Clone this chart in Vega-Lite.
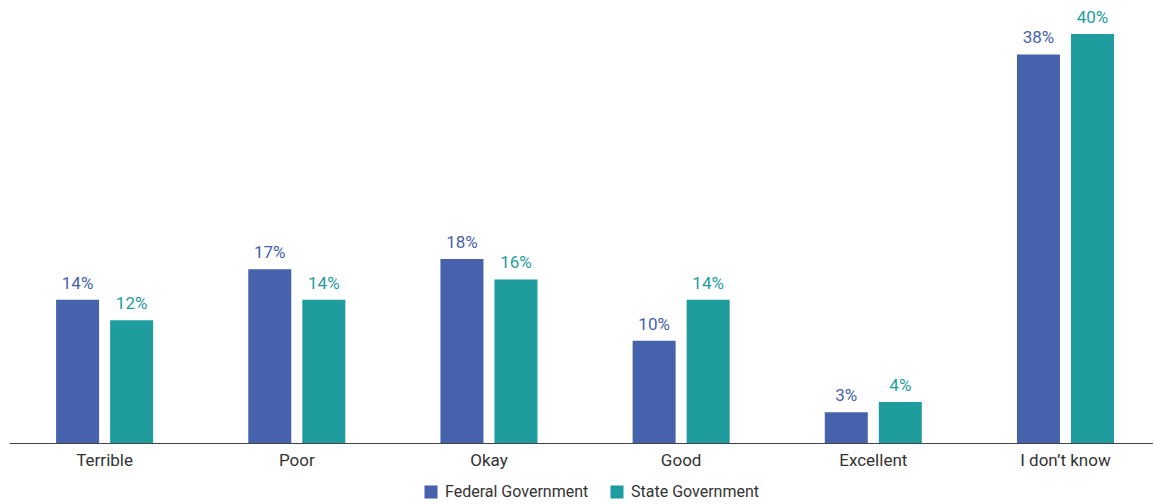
{
  "$schema": "https://vega.github.io/schema/vega-lite/v6.json",
  "width": 1144,
  "height": 443,
  "padding": {"left": 9, "top": 0, "right": 0, "bottom": 0},
  "background": "white",
  "data": {
    "values": [
      {"rating": "Terrible", "gov": "Federal Government", "pct": 0.14},
      {"rating": "Terrible", "gov": "State Government", "pct": 0.12},
      {"rating": "Poor", "gov": "Federal Government", "pct": 0.17},
      {"rating": "Poor", "gov": "State Government", "pct": 0.14},
      {"rating": "Okay", "gov": "Federal Government", "pct": 0.18},
      {"rating": "Okay", "gov": "State Government", "pct": 0.16},
      {"rating": "Good", "gov": "Federal Government", "pct": 0.10},
      {"rating": "Good", "gov": "State Government", "pct": 0.14},
      {"rating": "Excellent", "gov": "Federal Government", "pct": 0.03},
      {"rating": "Excellent", "gov": "State Government", "pct": 0.04},
      {"rating": "I don’t know", "gov": "Federal Government", "pct": 0.38},
      {"rating": "I don’t know", "gov": "State Government", "pct": 0.40}
    ]
  },
  "encoding": {
    "x": {
      "field": "rating", "type": "nominal", "sort": null, "title": null,
      "scale": {"paddingInner": 0.495, "paddingOuter": 0.224, "align": 0.547},
      "axis": {"labelAngle": 0, "ticks": false, "labelPadding": 9, "domainColor": "#444", "domainWidth": 1.2,
               "labelFont": "Roboto", "labelFontSize": 17, "labelColor": "#333"}
    },
    "xOffset": {"field": "gov", "type": "nominal", "scale": {"paddingInner": 0.204, "paddingOuter": 0}},
    "y": {"field": "pct", "type": "quantitative", "scale": {"domain": [0, 0.4333]}, "axis": null}
  },
  "layer": [
    {
      "mark": {"type": "bar"},
      "encoding": {
        "color": {
          "field": "gov", "type": "nominal", "title": null,
          "scale": {"domain": ["Federal Government", "State Government"], "range": ["#4662AD", "#1F9C9E"]},
          "legend": {"orient": "none", "legendX": 414, "legendY": 484, "direction": "horizontal", "symbolType": "square", "symbolSize": 170,
                     "labelFont": "Roboto", "labelFontSize": 16, "labelColor": "#333",
                     "columnPadding": 20, "labelOffset": 6, "symbolStrokeWidth": 0}
        }
      }
    },
    {
      "mark": {"type": "text", "baseline": "alphabetic", "dy": -11, "font": "Roboto", "fontSize": 17},
      "encoding": {
        "text": {"field": "pct", "type": "quantitative", "format": ".0%"},
        "color": {"field": "gov", "type": "nominal", "scale": {"domain": ["Federal Government", "State Government"], "range": ["#5A70BA", "#2EA6A6"]}, "legend": null}
      }
    }
  ],
  "config": {"view": {"stroke": null}}
}
